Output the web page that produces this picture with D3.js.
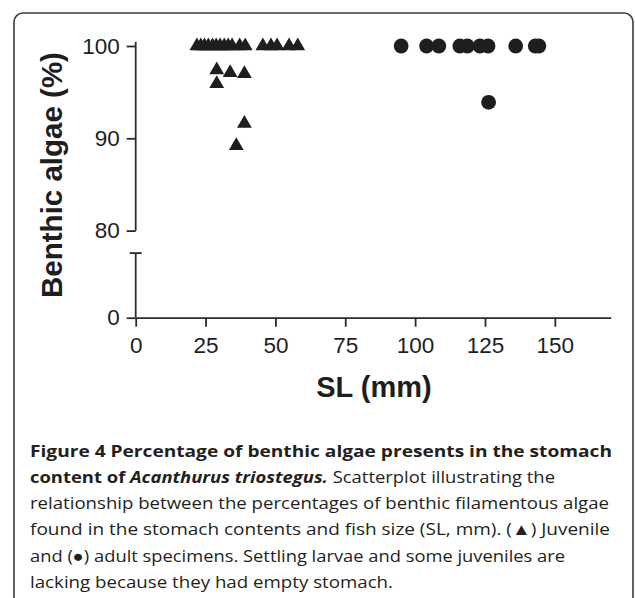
<!DOCTYPE html>
<html><head><meta charset="utf-8">
<script src="https://cdn.jsdelivr.net/npm/d3@7"></script>
<style>body{margin:0;background:#fff}svg{display:block}</style>
</head><body>
<svg id="c" width="635" height="598"></svg>
<script>
// ---- data ----
const juvenileSL  = [21.9,23.3,24.6,26.0,27.5,28.8,30.2,31.7,33.1,34.5,37.2,39.2,45.5,48.4,50.6,54.9,58.0, 29.0,33.8,38.9,29.0,38.9,36.0];
const juvenilePct = [100,100,100,100,100,100,100,100,100,100,100,100,100,100,100,100,100, 97.4,97.1,97.0,95.9,91.6,89.2];
const adultSL  = [95.0,104.1,108.5,116.0,118.7,123.2,126.1,136.0,143.0,144.3,126.3];
const adultPct = [100,100,100,100,100,100,100,100,100,100,93.9];
const xTicks = [0,25,50,75,100,125,150];
const yTicksUpper = [80,90,100];
const yTicksLower = [0];
const xTitle = "SL (mm)";
const yTitle = "Benthic algae (%)";
const captionLines = [
  [{t:"Figure 4 Percentage of benthic algae presents in the stomach", w:"bold"}],
  [{t:"content of ", w:"bold"},{t:"Acanthurus triostegus.", w:"bold", s:"italic"},{t:" Scatterplot illustrating the"}],
  [{t:"relationship between the percentages of benthic filamentous algae"}],
  [{t:"found in the stomach contents and fish size (SL, mm). (\u25B2) Juvenile"}],
  [{t:"and (\u25CF) adult specimens. Settling larvae and some juveniles are"}],
  [{t:"lacking because they had empty stomach."}]
];
const captionEnds = [612,555,609,610,565,393];

// ---- drawing ----
const svg = d3.select("#c");
const ink = "#1e1e1e";
const axisCol = "#2a2a2a";

svg.append("rect").attr("x",14).attr("y",13).attr("width",619).attr("height",620)
  .attr("rx",9).attr("fill","none").attr("stroke","#3a3a3a").attr("stroke-width",1.6);

const x = d3.scaleLinear().domain([0,170]).range([135.7,610.7]);
const yU = d3.scaleLinear().domain([80,100]).range([230.6,46]);
const yL = d3.scaleLinear().domain([0,7]).range([317.7,253.1]);
const axisX = x(0);
const fmt = d3.format("d");

const font = "'Liberation Sans', Arial, Helvetica, sans-serif";

// x axis
const gx = svg.append("g").attr("transform",`translate(0,${yL(0)})`)
  .call(d3.axisBottom(x).tickValues(xTicks).tickFormat(fmt).tickSize(9).tickPadding(10).tickSizeOuter(0));
gx.select(".domain").attr("stroke",axisCol).attr("stroke-width",1.8);
gx.selectAll(".tick line").attr("stroke",axisCol).attr("stroke-width",1.8);
gx.selectAll(".tick text").attr("font-family",font).attr("font-size",22.5).attr("fill",ink);

// y axis upper
const gyU = svg.append("g").attr("transform",`translate(${axisX},0)`)
  .call(d3.axisLeft(yU).tickValues(yTicksUpper).tickFormat(fmt).tickSize(9).tickPadding(7).tickSizeOuter(0));
gyU.select(".domain").remove();
gyU.append("line").attr("x1",0).attr("x2",0).attr("y1",yU(100.45)).attr("y2",yU(80))
  .attr("stroke",axisCol).attr("stroke-width",1.8);
gyU.selectAll(".tick line").attr("stroke",axisCol).attr("stroke-width",1.8);
gyU.selectAll(".tick text").attr("font-family",font).attr("font-size",22.5).attr("fill",ink);

// y axis lower
const gyL = svg.append("g").attr("transform",`translate(${axisX},0)`)
  .call(d3.axisLeft(yL).tickValues(yTicksLower).tickFormat(fmt).tickSize(9).tickPadding(7).tickSizeOuter(0));
gyL.select(".domain").remove();
gyL.append("line").attr("x1",0).attr("x2",0).attr("y1",yL(7)).attr("y2",yL(0))
  .attr("stroke",axisCol).attr("stroke-width",1.8);
gyL.append("line").attr("x1",-6).attr("x2",6).attr("y1",yL(7)).attr("y2",yL(7))
  .attr("stroke",axisCol).attr("stroke-width",1.8);
gyL.selectAll(".tick line").attr("stroke",axisCol).attr("stroke-width",1.8);
gyL.selectAll(".tick text").attr("font-family",font).attr("font-size",22.5).attr("fill",ink);

// titles
svg.append("text").attr("x",374).attr("y",397).attr("text-anchor","middle")
  .attr("font-family",font).attr("font-weight","bold").attr("font-size",29).attr("fill",ink).text(xTitle);
svg.append("text").attr("transform","translate(62,175) rotate(-90)").attr("text-anchor","middle")
  .attr("font-family",font).attr("font-weight","bold").attr("font-size",29.5).attr("fill",ink).text(yTitle);

// points
const tri = d3.symbol().type(d3.symbolTriangle).size(95);
svg.append("g").selectAll("path").data(juvenileSL).join("path")
  .attr("d",tri)
  .attr("transform",(d,i)=>`translate(${x(d)},${yU(juvenilePct[i])})`)
  .attr("fill",ink);
svg.append("g").selectAll("circle").data(adultSL).join("circle")
  .attr("cx",d=>x(d)).attr("cy",(d,i)=>yU(adultPct[i])).attr("r",7.4)
  .attr("fill",ink);

// caption
const capFont = "'Open Sans', 'Noto Sans', sans-serif";
captionLines.forEach((line,i)=>{
  const t = svg.append("text").attr("x",30).attr("y",456.5 + i*26.3)
    .attr("font-family",capFont).attr("font-size",16.5).attr("fill","#231f20")
    .attr("textLength",captionEnds[i]-30).attr("lengthAdjust","spacingAndGlyphs");
  line.forEach(seg=>{
    t.append("tspan").attr("font-weight",seg.w||"normal").attr("font-style",seg.s||"normal").text(seg.t);
  });
});
</script>
</body></html>
